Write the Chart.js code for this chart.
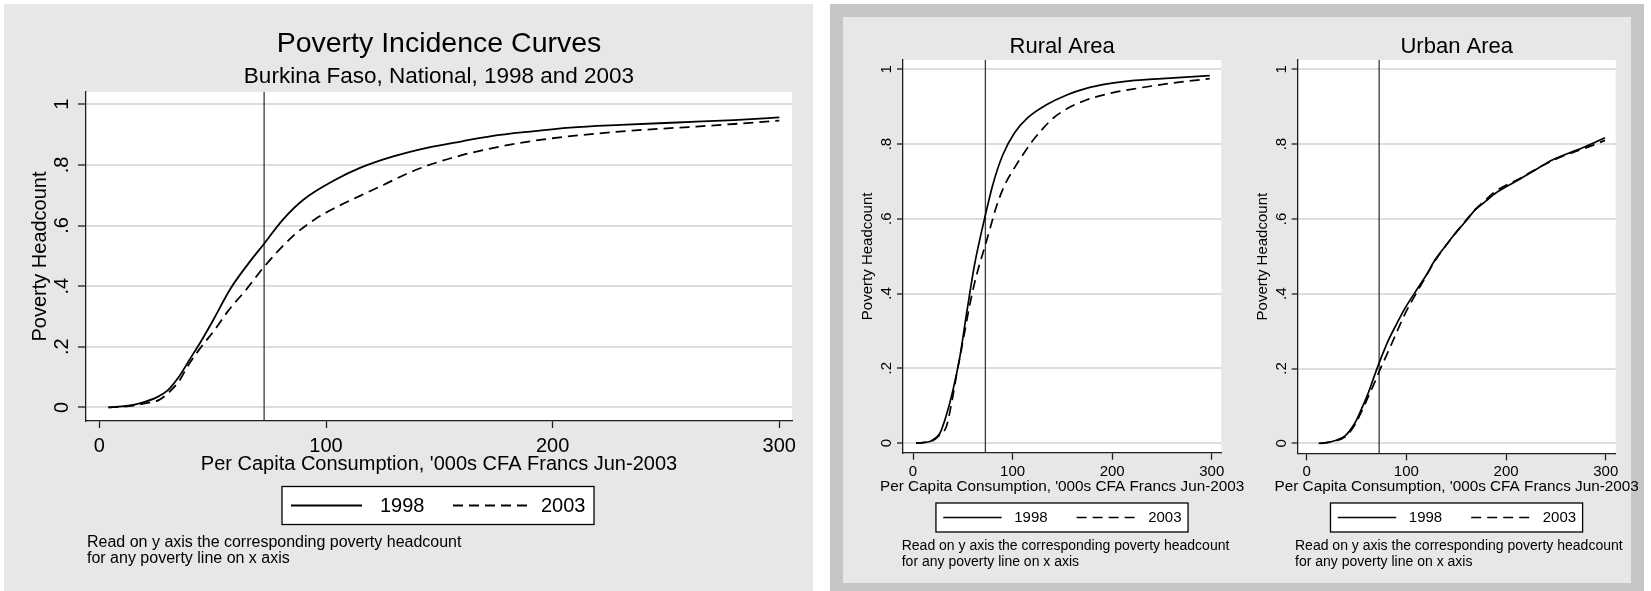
<!DOCTYPE html>
<html><head><meta charset="utf-8">
<script src="https://cdn.jsdelivr.net/npm/chart.js@4/dist/chart.umd.min.js"></script>
<style>
html,body{margin:0;padding:0;background:#fff;width:1651px;height:591px;overflow:hidden;position:relative;}
#panelL{position:absolute;left:4px;top:4px;width:809px;height:587px;background:#e6e7e9;}
#outerR{position:absolute;left:830px;top:4px;width:814px;height:587px;background:#c5c6c8;}
#innerR{position:absolute;left:843px;top:17px;width:788px;height:566px;background:#e6e7e9;}
canvas{position:absolute;top:0;}
</style></head><body>
<div id="panelL"></div><div id="outerR"></div><div id="innerR"></div>
<canvas id="cL" style="left:0px;width:820px;height:591px" width="820" height="591"></canvas>
<canvas id="cR" style="left:843px;width:407px;height:591px" width="407" height="591"></canvas>
<canvas id="cU" style="left:1250px;width:401px;height:591px" width="401" height="591"></canvas>
<script>
// ---------- data ----------
const seriesLabels = ['1998', '2003'];
const yTickValues = [0, 0.2, 0.4, 0.6, 0.8, 1];
const yTickLabels = ['0', '.2', '.4', '.6', '.8', '1'];
const xTickValues = [0, 100, 200, 300];
const xTickLabels = ['0', '100', '200', '300'];
const povertyLine = 72.69;
const yAxisTitle = 'Poverty Headcount';
const xAxisTitle = "Per Capita Consumption, '000s CFA Francs Jun-2003";
const noteLines = ['Read on y axis the corresponding poverty headcount', 'for any poverty line on x axis'];
const nationalTitle = 'Poverty Incidence Curves';
const nationalSubtitle = 'Burkina Faso, National, 1998 and 2003';
const ruralTitle = 'Rural Area';
const urbanTitle = 'Urban Area';

const nat1998X = [4, 10, 15, 20, 25, 30, 35, 40, 45, 50, 57.7, 65.8, 72.69, 80.8, 90, 103.9, 115, 129.3, 145, 160, 173, 190, 207.7, 230, 255, 280, 300];
const nat1998Y = [0, 0.003, 0.008, 0.018, 0.032, 0.055, 0.10, 0.16, 0.22, 0.285, 0.39, 0.475, 0.54, 0.618, 0.685, 0.75, 0.79, 0.827, 0.857, 0.878, 0.895, 0.91, 0.923, 0.932, 0.94, 0.948, 0.957];
const nat2003X = [4, 10, 15, 20, 26.2, 30, 35, 39.3, 45, 50.8, 57, 64.6, 72.69, 85.4, 95, 103.9, 115, 125, 138.5, 155, 177.7, 200, 233, 260, 280, 300];
const nat2003Y = [0, 0.002, 0.006, 0.013, 0.024, 0.045, 0.085, 0.14, 0.2, 0.255, 0.32, 0.387, 0.464, 0.565, 0.62, 0.658, 0.698, 0.733, 0.78, 0.822, 0.862, 0.888, 0.912, 0.925, 0.935, 0.946];

const rur1998X = [3, 10, 17, 22, 27, 33, 40, 47, 54, 62, 72.69, 80, 90, 102, 115, 134, 155, 174, 195, 218, 250, 298];
const rur1998Y = [0, 0.001, 0.004, 0.012, 0.026, 0.07, 0.14, 0.23, 0.35, 0.48, 0.61, 0.69, 0.77, 0.83, 0.87, 0.905, 0.932, 0.949, 0.961, 0.969, 0.975, 0.983];
const rur2003X = [3, 10, 17, 22, 27, 33.6, 40, 43.6, 50, 57, 62, 67, 72.69, 78, 84, 92, 100.5, 110, 120.5, 130, 140.6, 155, 174, 200, 225, 260, 298];
const rur2003Y = [0, 0.001, 0.004, 0.01, 0.022, 0.045, 0.125, 0.18, 0.27, 0.37, 0.43, 0.48, 0.53, 0.58, 0.635, 0.69, 0.73, 0.77, 0.81, 0.84, 0.869, 0.895, 0.918, 0.937, 0.949, 0.963, 0.975];

const urb1998X = [12, 20, 28, 38.5, 48.5, 55, 61.8, 68.5, 72.69, 81.9, 90, 98.4, 109, 120, 128.7, 140, 148.8, 160, 168.9, 180, 189, 200, 212.3, 230, 245.8, 262, 279.2, 299.3];
const urb1998Y = [0, 0.002, 0.007, 0.02, 0.055, 0.092, 0.135, 0.185, 0.215, 0.275, 0.318, 0.36, 0.405, 0.45, 0.49, 0.53, 0.561, 0.595, 0.624, 0.648, 0.668, 0.686, 0.704, 0.732, 0.757, 0.775, 0.793, 0.817];
const urb2003X = [14, 20, 28, 38.5, 48.5, 55, 61.8, 68.5, 72.69, 80, 88.3, 98.4, 109, 120, 128.7, 140, 148.8, 160, 168.9, 180, 189, 200, 212.3, 230, 245.8, 262, 279.2, 299.3];
const urb2003Y = [0, 0.002, 0.006, 0.017, 0.05, 0.085, 0.125, 0.165, 0.192, 0.235, 0.285, 0.345, 0.397, 0.448, 0.488, 0.53, 0.56, 0.597, 0.625, 0.652, 0.673, 0.69, 0.706, 0.733, 0.755, 0.773, 0.789, 0.81];

// ---------- rendering ----------
const FONT = "'Liberation Sans', Arial, Helvetica, sans-serif";
const INK = '#000';
const AXIS = '#1e1e1e';
const GRID = '#dcdddf';

function pts(xs, ys) { return xs.map((x, i) => ({x: x, y: ys[i]})); }

function makeDecor(g) {
  return {
    id: 'stataDecor',
    beforeDraw(chart) {
      const {ctx, chartArea: a} = chart;
      ctx.save();
      ctx.fillStyle = '#fff';
      ctx.fillRect(a.left, a.top, a.right - a.left, a.bottom - a.top);
      ctx.restore();
    },
    beforeDatasetsDraw(chart) {
      const {ctx, chartArea: a, scales} = chart;
      const px = scales.x.getPixelForValue(povertyLine);
      ctx.save();
      ctx.strokeStyle = '#3a3a3a';
      ctx.lineWidth = g.vlineWidth;
      ctx.beginPath(); ctx.moveTo(px, a.top); ctx.lineTo(px, a.bottom); ctx.stroke();
      ctx.restore();
    },
    afterDraw(chart) {
      const {ctx, chartArea: a} = chart;
      const cx = (a.left + a.right) / 2;
      ctx.save();
      ctx.fillStyle = INK;
      ctx.textAlign = 'center';
      ctx.textBaseline = 'alphabetic';
      g.titles.forEach(t => {
        ctx.font = t.size + 'px ' + FONT;
        ctx.fillText(t.text, cx, t.y);
      });
      ctx.textBaseline = 'middle';
      ctx.font = g.xTitleSize + 'px ' + FONT;
      ctx.fillText(xAxisTitle, cx, g.xTitleY);
      const L = g.legend;
      const bx = cx + L.x0, bw = L.x1 - L.x0;
      ctx.fillStyle = '#fff';
      ctx.fillRect(bx, L.y0, bw, L.y1 - L.y0);
      ctx.strokeStyle = '#000';
      ctx.lineWidth = 1.3;
      ctx.strokeRect(bx, L.y0, bw, L.y1 - L.y0);
      const cy = (L.y0 + L.y1) / 2;
      chart.data.datasets.forEach((ds, i) => {
        const it = L.items[i];
        ctx.save();
        ctx.strokeStyle = ds.borderColor;
        ctx.lineWidth = ds.borderWidth;
        ctx.setLineDash(ds.borderDash || []);
        ctx.beginPath(); ctx.moveTo(cx + it.s0, cy); ctx.lineTo(cx + it.s1, cy); ctx.stroke();
        ctx.restore();
        ctx.fillStyle = INK;
        ctx.textAlign = 'left';
        ctx.textBaseline = 'middle';
        ctx.font = L.size + 'px ' + FONT;
        ctx.fillText(ds.label, cx + it.t, L.ty);
      });
      ctx.textAlign = 'left';
      ctx.font = g.note.size + 'px ' + FONT;
      noteLines.forEach((line, i) => ctx.fillText(line, g.note.x, g.note.ys[i]));
      ctx.restore();
    }
  };
}

function makeChart(id, g, xs1, ys1, xs2, ys2) {
  const plotW = g.canvasW, plotH = 591;
  return new Chart(document.getElementById(id), {
    type: 'line',
    data: {
      datasets: [
        {label: seriesLabels[0], data: pts(xs1, ys1), borderColor: '#000', borderWidth: g.lineWidth, borderDash: [],
         pointRadius: 0, fill: false, cubicInterpolationMode: 'monotone'},
        {label: seriesLabels[1], data: pts(xs2, ys2), borderColor: '#000', borderWidth: g.lineWidth, borderDash: g.dash,
         pointRadius: 0, fill: false, cubicInterpolationMode: 'monotone'}
      ]
    },
    options: {
      responsive: false, animation: false, devicePixelRatio: 1, events: [],
      layout: {padding: {left: 0, top: g.plot.top, right: plotW - g.plot.right, bottom: 0}},
      plugins: {legend: {display: false}, title: {display: false}, tooltip: {enabled: false}},
      scales: {
        x: {
          type: 'linear', min: g.xMin, max: g.xMax,
          afterBuildTicks: s => { s.ticks = xTickValues.map(v => ({value: v})); },
          afterFit: s => { s.height = plotH - g.plot.bottom; s.paddingLeft = 0; s.paddingRight = 0; },
          ticks: {
            autoSkip: false, maxRotation: 0, minRotation: 0, padding: g.xTickPad, color: INK,
            font: {family: FONT, size: g.tickSize},
            callback: v => xTickLabels[xTickValues.indexOf(v)]
          },
          grid: {drawOnChartArea: false, tickLength: 7, tickColor: AXIS, tickWidth: 1.3},
          border: {display: true, color: AXIS, width: 1.3}
        },
        y: {
          type: 'linear', min: g.yMin, max: g.yMax,
          afterBuildTicks: s => { s.ticks = yTickValues.map(v => ({value: v})); },
          afterFit: s => { s.width = g.plot.left; s.paddingTop = 0; s.paddingBottom = 0; },
          ticks: {
            autoSkip: false, minRotation: 90, maxRotation: 90, crossAlign: 'center', padding: g.yTickPad, color: INK,
            font: {family: FONT, size: g.tickSize},
            callback: v => yTickLabels[yTickValues.indexOf(v)]
          },
          grid: {color: GRID, lineWidth: 2, tickLength: g.yTickLen, tickColor: AXIS, tickWidth: 1.3},
          border: {display: true, color: AXIS, width: 1.3},
          title: {display: true, text: yAxisTitle, color: INK, font: {family: FONT, size: g.yTitleSize},
                  padding: {top: g.yTitlePad, bottom: 0}}
        }
      }
    },
    plugins: [makeDecor(g)]
  });
}

// National (canvas at x=0)
makeChart('cL', {
  canvasW: 820,
  plot: {left: 86, top: 92, right: 792, bottom: 421},
  xMin: -5.9, xMax: 305.6, yMin: -0.045, yMax: 1.0406,
  tickSize: 20, xTickPad: 6, yTickPad: 7, yTickLen: 8,
  yTitleSize: 20, yTitlePad: 28,
  xTitleSize: 20, xTitleY: 464,
  lineWidth: 1.8, dash: [10, 6], vlineWidth: 1.3,
  titles: [{text: nationalTitle, size: 28.5, y: 52}, {text: nationalSubtitle, size: 22.5, y: 83}],
  legend: {x0: -157, x1: 155, y0: 486.5, y1: 524.5, ty: 506, size: 20,
           items: [{s0: -148, s1: -77, t: -59}, {s0: 14, s1: 90, t: 102}]},
  note: {x: 87, ys: [543, 559], size: 16}
}, nat1998X, nat1998Y, nat2003X, nat2003Y);

// Rural (canvas at x=843)
makeChart('cR', {
  canvasW: 407,
  plot: {left: 60, top: 60, right: 378.3, bottom: 452.7},
  xMin: -10.05, xMax: 309.6, yMin: -0.026, yMax: 1.0249,
  tickSize: 15, xTickPad: 3, yTickPad: 4, yTickLen: 6,
  yTitleSize: 15, yTitlePad: 15.5,
  xTitleSize: 15.3, xTitleY: 486.5,
  lineWidth: 1.7, dash: [10, 6], vlineWidth: 1.3,
  titles: [{text: ruralTitle, size: 22, y: 53}],
  legend: {x0: -126.2, x1: 125.9, y0: 503, y1: 532, ty: 518, size: 15,
           items: [{s0: -118.9, s1: -60.5, t: -47.9}, {s0: 14.5, s1: 78, t: 86}]},
  note: {x: 58.7, ys: [546.5, 562], size: 14}
}, rur1998X, rur1998Y, rur2003X, rur2003Y);

// Urban (canvas at x=1250)
makeChart('cU', {
  canvasW: 401,
  plot: {left: 47.7, top: 60, right: 365.7, bottom: 453.3},
  xMin: -9.03, xMax: 310.0, yMin: -0.0267, yMax: 1.0249,
  tickSize: 15, xTickPad: 3, yTickPad: 4, yTickLen: 6,
  yTitleSize: 15, yTitlePad: 3.5,
  xTitleSize: 15.3, xTitleY: 486.5,
  lineWidth: 1.7, dash: [10, 6], vlineWidth: 1.3,
  titles: [{text: urbanTitle, size: 22, y: 53}],
  legend: {x0: -126.2, x1: 125.9, y0: 503, y1: 532, ty: 518, size: 15,
           items: [{s0: -118.9, s1: -60.5, t: -47.9}, {s0: 14.5, s1: 78, t: 86}]},
  note: {x: 45, ys: [546.5, 562], size: 14}
}, urb1998X, urb1998Y, urb2003X, urb2003Y);
</script>
</body></html>
